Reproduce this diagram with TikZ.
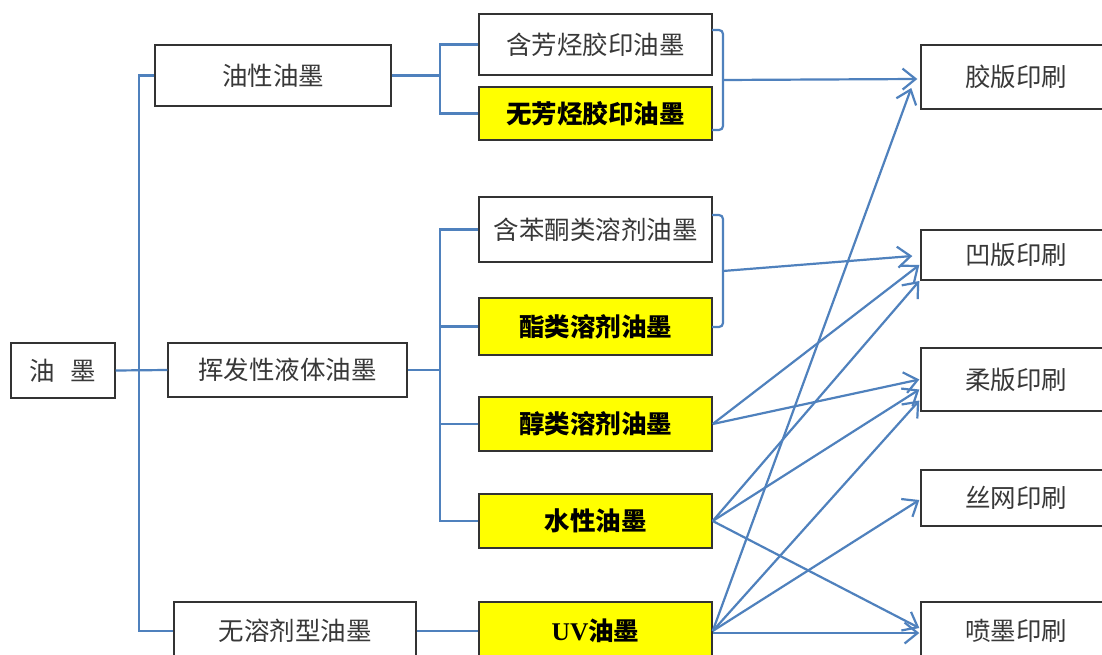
\documentclass[tikz,border=0pt]{standalone}
\usepackage{fontspec}
\setmainfont{Noto Sans CJK SC}
\newfontfamily\latf{Liberation Serif}
\usetikzlibrary{arrows.meta,calc}
\definecolor{lnblue}{HTML}{4F81BD}
\definecolor{txtgray}{HTML}{383838}
\definecolor{boxyel}{HTML}{FFFF00}
\begin{document}
\begin{tikzpicture}[x=1pt,y=-1pt,
  box/.style={draw=black!80, line width=1.4pt, inner sep=0pt, text=txtgray,
    font=\fontsize{25.5}{30}\selectfont},
  ybox/.style={box, fill=boxyel, text=black, font=\fontsize{25.5}{30}\selectfont\bfseries},
  conn/.style={draw=lnblue, line width=2.2pt},
  arr/.style={conn, -{Straight Barb[length=13pt,width=21pt]}}]
\useasboundingbox (0,0) rectangle (1102,655);
\clip (0,0) rectangle (1102,655);
\fill[white] (0,0) rectangle (1102,655);
% level 0 / 1
\node[box, minimum width=104pt, minimum height=55pt] (ym) at (63,370.5) {油\hspace{0.6em}墨};
\node[box, minimum width=236pt, minimum height=61pt] (yx) at (273,75.5) {油性油墨};
\node[box, minimum width=239pt, minimum height=54pt] (hf) at (287.5,370) {挥发性液体油墨};
\node[box, minimum width=242pt, minimum height=58pt] (wr) at (295,631) {无溶剂型油墨};
% level 2
\node[box, minimum width=233pt, minimum height=61pt] (a1) at (595.5,44.5) {含芳烃胶印油墨};
\node[ybox, minimum width=233pt, minimum height=53pt] (a2) at (595.5,113.5) {无芳烃胶印油墨};
\node[box, minimum width=233pt, minimum height=65pt] (b1) at (595.5,229.5) {含苯酮类溶剂油墨};
\node[ybox, minimum width=233pt, minimum height=57pt] (b2) at (595.5,326.5) {酯类溶剂油墨};
\node[ybox, minimum width=233pt, minimum height=54pt] (b3) at (595.5,424) {醇类溶剂油墨};
\node[ybox, minimum width=233pt, minimum height=54pt] (b4) at (595.5,521) {水性油墨};
\node[ybox, minimum width=233pt, minimum height=58pt] (uv) at (595.5,631) {{\latf\bfseries UV}油墨};
% level 3
\node[box, minimum width=190pt, minimum height=64pt] (r1) at (1016,77) {胶版印刷};
\node[box, minimum width=190pt, minimum height=50pt] (r2) at (1016,255) {凹版印刷};
\node[box, minimum width=190pt, minimum height=63pt] (r3) at (1016,379.5) {柔版印刷};
\node[box, minimum width=190pt, minimum height=56pt] (r4) at (1016,498) {丝网印刷};
\node[box, minimum width=190pt, minimum height=58pt] (r5) at (1016,631) {喷墨印刷};
% trunk lines
\coordinate (bx) at (440,0);
\draw[conn] (yx.west) -- ++(-15,0) |- (wr.west);
\draw[conn] (ym.east) -- (hf.west);
\draw[conn] (yx.east) -- (yx.east -| bx);
\draw[conn] (a1.west) -- (a1.west -| bx) |- (a2.west);
\draw[conn] (hf.east) -- (hf.east -| bx);
\draw[conn] (b1.west) -- (b1.west -| bx) |- (b4.west);
\draw[conn] (b2.west) -- (b2.west -| bx);
\draw[conn] (b3.west) -- (b3.west -| bx);
\draw[conn] (wr.east) -- (uv.west);
% braces
\coordinate (k1) at (723,80);
\coordinate (k2) at (723,271);
\draw[conn, rounded corners=4pt] (712,30) -- (723,30) -- (723,130) -- (712,130);
\draw[conn, rounded corners=4pt] (712,215) -- (723,215) -- (723,327) -- (712,327);
% arrows
\draw[arr] (k1) -- ([xshift=-3pt,yshift=-2pt]r1.west);
\draw[arr] (k2) -- ([xshift=-8pt,yshift=-1pt]r2.west);
\draw[arr] (b3.east) -- ([xshift=-1pt,yshift=-10pt]r2.west);
\draw[arr] (b3.east) -- ([xshift=-1pt]r3.west);
\draw[arr] (b4.east) -- ([xshift=-1pt,yshift=-26pt]r2.west);
\draw[arr] (b4.east) -- ([xshift=-1pt,yshift=-10pt]r3.west);
\draw[arr] (b4.east) -- ([xshift=-1pt,yshift=3pt]r5.west);
\draw[arr] (uv.east) -- ([xshift=-9pt,yshift=-11pt]r1.west);
\draw[arr] (uv.east) -- ([xshift=-1pt,yshift=-21pt]r3.west);
\draw[arr] (uv.east) -- ([xshift=-1pt,yshift=-2pt]r4.west);
\draw[arr] ([yshift=-2pt]uv.east) -- ([xshift=-1pt,yshift=-2pt]r5.west);
\end{tikzpicture}
\end{document}
